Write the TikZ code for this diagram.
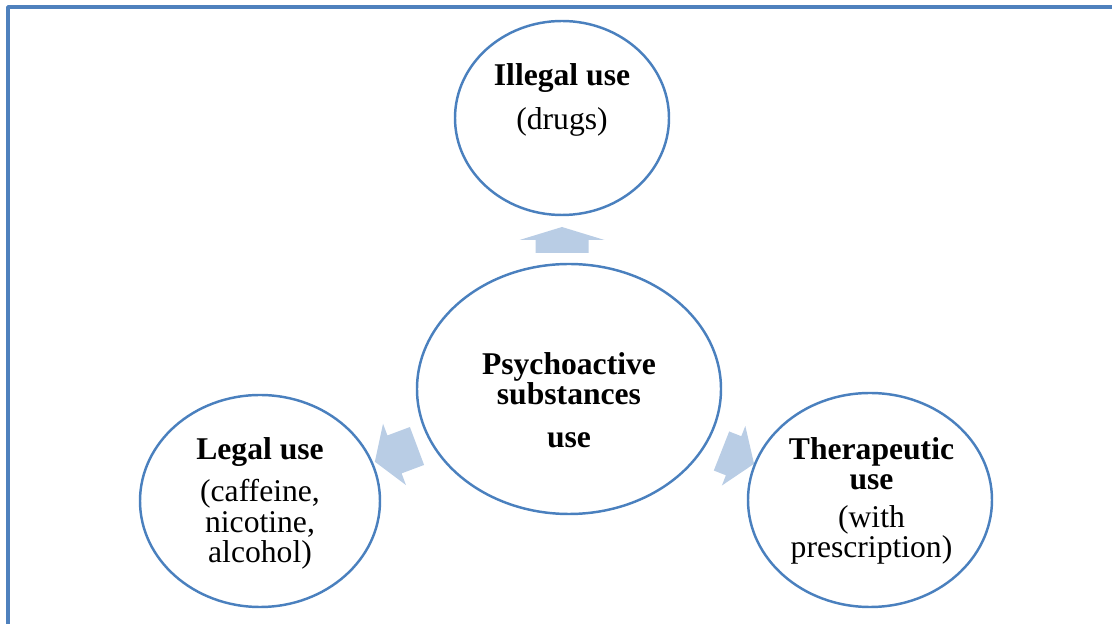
\documentclass[tikz,border=0pt]{standalone}
\usepackage{fontspec}
\setmainfont{Liberation Serif}
\usetikzlibrary{shapes.geometric,calc}

\definecolor{frameblue}{RGB}{79,129,189}
\definecolor{ringblue}{RGB}{74,128,190}
\definecolor{arrowfill}{RGB}{185,205,229}

\tikzset{
  ring/.style={ellipse, draw=ringblue, line width=1.4pt, fill=white, inner sep=0pt},
  txt/.style={align=center, font=\fontsize{18}{17.2}\selectfont},
  blockarrow/.style={fill=arrowfill, draw=none}
}

\begin{document}
\begin{tikzpicture}[line join=round]
\useasboundingbox (0,0) rectangle (22.24,-12.48);

% frame, only top and left edges
\draw[frameblue, line width=2.2pt] (0.16,-12.6) -- (0.16,-0.14) -- (22.4,-0.14);

% block arrows (drawn first, the rings cover their ends)
\coordinate (upA) at (11.24,-5.06);
\coordinate (leftA) at (8.34,-8.92);
\coordinate (rightA) at (14.43,-9.02);

\begin{scope}[shift={(upA)}, rotate=90]
\fill[blockarrow] (0,-0.53) -- (0.26,-0.53) -- (0.26,-0.85) -- (0.52,0)
  -- (0.26,0.85) -- (0.26,0.53) -- (0,0.53) -- cycle;
\end{scope}

\begin{scope}[shift={(leftA)}, rotate=200.5]
\fill[blockarrow] (0,-0.405) -- (0.48,-0.405) -- (0.48,-0.656) -- (0.9,0)
  -- (0.48,0.656) -- (0.48,0.405) -- (0,0.405) -- cycle;
\end{scope}

\begin{scope}[shift={(rightA)}, rotate=-21.5]
\fill[blockarrow] (0,-0.42) -- (0.26,-0.42) -- (0.26,-0.64) -- (0.70,0)
  -- (0.26,0.64) -- (0.26,0.42) -- (0,0.42) -- cycle;
\end{scope}

% rings
\node[ring, minimum width=4.28cm, minimum height=3.88cm] (ill) at (11.24,-2.36) {};
\node[ring, minimum width=6.08cm, minimum height=5.0cm] (core) at (11.38,-7.78) {};
\node[ring, minimum width=4.8cm, minimum height=4.24cm] (legal) at (5.2,-10.02) {};
\node[ring, minimum width=4.88cm, minimum height=4.28cm] (ther) at (17.4,-10.0) {};

% labels
\node[txt] (illT) at ([yshift=0.36cm]ill.center) {\textbf{Illegal use}\\[0.26cm] (drugs)};
\node[txt] (coreT) at ([yshift=-0.22cm]core.center) {\textbf{Psychoactive}\\ \textbf{substances}\\[0.26cm] \textbf{use}};
\node[txt] (legalT) at ([yshift=-0.05cm]legal.center) {\textbf{Legal use}\\[0.24cm] (caffeine,\\ nicotine,\\ alcohol)};
\node[txt] (therT) at ([xshift=0.03cm,yshift=-0.02cm]ther.center) {\textbf{Therapeutic}\\ \textbf{use}\\[0.16cm] (with\\ prescription)};

\end{tikzpicture}
\end{document}
